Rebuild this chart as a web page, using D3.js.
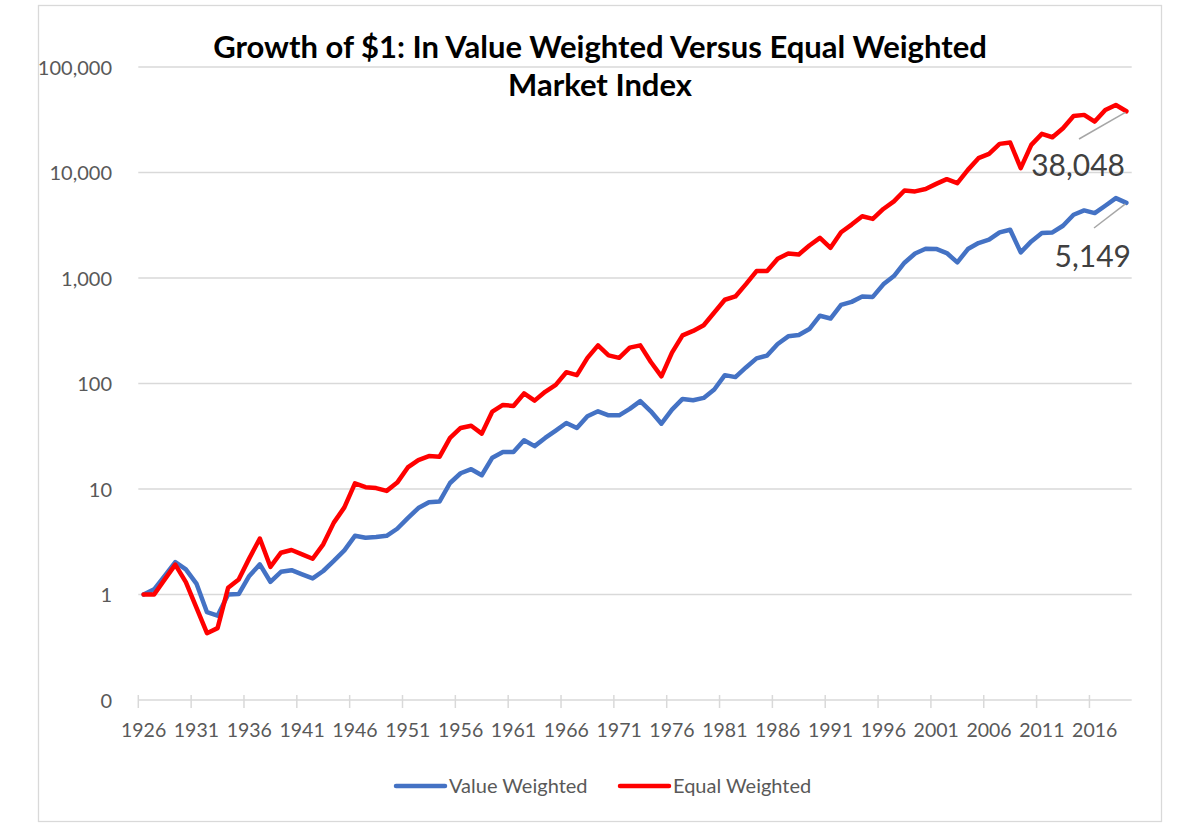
<!DOCTYPE html>
<html>
<head>
<meta charset="utf-8">
<script src="https://cdn.jsdelivr.net/npm/d3@7"></script>
<style>
    body { margin: 0; background: #fff; }
    svg text { font-family: Lato, 'Liberation Sans', sans-serif; }
</style>
</head>
<body>
<div id="chart"></div>
<script>
// Year categories, one point per year
const years = d3.range(1926, 2020);

const valueWeighted = [
    1.0, 1.12, 1.5, 2.03, 1.73, 1.27, 0.68, 0.63, 1.0, 1.01,
    1.5, 1.93, 1.32, 1.64, 1.7, 1.55, 1.42, 1.67, 2.08, 2.62,
    3.6, 3.45, 3.5, 3.6, 4.2, 5.3, 6.6, 7.5, 7.6, 11.4,
    14.1, 15.4, 13.5, 19.8, 22.4, 22.4, 29, 25.5, 30.5, 35.8,
    42.2, 37.8, 48.9, 54.5, 49.9, 49.9, 57.4, 68, 54.5, 41.6,
    56.5, 71.4, 69.4, 73, 87.7, 120, 115, 142, 173, 184,
    237, 280, 288, 328, 439, 413, 556, 594, 667, 662,
    871, 1044, 1396, 1709, 1892, 1885, 1724, 1407, 1880, 2144,
    2306, 2706, 2867, 1750, 2222, 2668, 2706, 3127, 3979, 4370,
    4121, 4842, 5720, 5149
];

const equalWeighted = [
    1.0, 1.0, 1.39, 1.92, 1.31, 0.75, 0.43, 0.48, 1.16, 1.39,
    2.2, 3.39, 1.83, 2.49, 2.64, 2.4, 2.18, 2.99, 4.8, 6.7,
    11.3, 10.4, 10.2, 9.6, 11.5, 16.0, 18.8, 20.5, 20.2, 30.5,
    37.9, 39.8, 33.5, 54.2, 62.7, 61.3, 80.5, 68.8, 83.5, 97,
    128, 120, 175, 230, 185, 175, 219, 230, 160, 117,
    196, 286, 315, 357, 471, 622, 669, 875, 1164, 1164,
    1521, 1710, 1673, 2032, 2401, 1932, 2717, 3208, 3846, 3630,
    4510, 5325, 6760, 6620, 6965, 7800, 8650, 7930, 10590, 13670,
    15030, 18680, 19240, 10990, 18280, 23230, 21590, 26290, 34380, 35170,
    30390, 39190, 43680, 38048
];

const yTicks = [0.1, 1, 10, 100, 1000, 10000, 100000];
const seriesNames = ['Value Weighted', 'Equal Weighted'];
const seriesColors = ['#4472C4', '#FF0000'];
const titleLines = ['Growth of $1: In Value Weighted Versus Equal Weighted', 'Market Index'];

class GrowthChart {

    constructor() {
        this.width = 1201;
        this.height = 832;
        this.plot = { left: 138.3, right: 1131.7, top: 67, bottom: 700 };
        this.svg = d3.select('#chart').append('svg')
            .attr('width', this.width)
            .attr('height', this.height);
        this.draw();
    }

    draw() {
        let self = this;
        let p = self.plot;
        let fmt = d3.format(',.0f');

        self.svg.append('rect')
            .attr('x', 38.5)
            .attr('y', 5.5)
            .attr('width', 1123)
            .attr('height', 816)
            .attr('fill', '#fff')
            .attr('stroke', '#d9d9d9')
            .attr('stroke-width', 1.3);

        let x = d3.scaleBand()
            .domain(years)
            .range([p.left, p.right])
            .padding(0);
        let cx = d => x(d) + x.bandwidth() / 2;

        let y = d3.scaleLog()
            .domain([0.1, 100000])
            .range([p.bottom, p.top]);

        // gridlines
        self.svg.append('g')
            .selectAll('line')
            .data(yTicks)
            .enter()
            .append('line')
            .attr('x1', p.left)
            .attr('x2', p.right)
            .attr('y1', d => y(d))
            .attr('y2', d => y(d))
            .attr('stroke', '#d9d9d9')
            .attr('stroke-width', 1.5);

        // y axis labels
        let yAxis = d3.axisLeft(y)
            .tickValues(yTicks)
            .tickFormat(fmt)
            .tickSize(0)
            .tickPadding(0);
        let gy = self.svg.append('g')
            .attr('transform', `translate(112, 0)`)
            .call(yAxis);
        gy.select('.domain').remove();
        gy.selectAll('text')
            .attr('dy', '0.36em')
            .style('font-size', '20px')
            .style('fill', '#595959');

        // x axis: tick marks on category boundaries, labels on centers
        let labelYears = years.filter((d, i) => i % 5 === 0);
        self.svg.append('g')
            .selectAll('line')
            .data(labelYears)
            .enter()
            .append('line')
            .attr('x1', d => x(d))
            .attr('x2', d => x(d))
            .attr('y1', p.bottom - 5)
            .attr('y2', p.bottom + 8)
            .attr('stroke', '#d9d9d9')
            .attr('stroke-width', 1.5);

        let xAxis = d3.axisBottom(x)
            .tickValues(labelYears)
            .tickSize(0)
            .tickPadding(0);
        let gx = self.svg.append('g')
            .attr('transform', `translate(0, ${p.bottom + 37})`)
            .call(xAxis);
        gx.select('.domain').remove();
        gx.selectAll('text')
            .attr('dy', 0)
            .style('font-size', '19.5px')
            .style('fill', '#595959');

        // series lines
        let line = d3.line()
            .x((d, i) => cx(years[i]))
            .y(d => y(d));
        [valueWeighted, equalWeighted].forEach((s, k) => {
            self.svg.append('path')
                .datum(s)
                .attr('d', line)
                .attr('fill', 'none')
                .attr('stroke', seriesColors[k])
                .attr('stroke-width', 4.5)
                .attr('stroke-linejoin', 'round')
                .attr('stroke-linecap', 'round');
        });

        // end labels with leader lines
        let last = years.length - 1;
        let endLabels = [
            { v: equalWeighted[last], lx: 1079, ly: 139, tx: 1125, ty: 176 },
            { v: valueWeighted[last], lx: 1094, ly: 228, tx: 1131, ty: 267 }
        ];
        endLabels.forEach(d => {
            self.svg.append('line')
                .attr('x1', d.lx)
                .attr('y1', d.ly)
                .attr('x2', cx(years[last]) - 1)
                .attr('y2', y(d.v) + 1)
                .attr('stroke', '#a6a6a6')
                .attr('stroke-width', 1.5);
            self.svg.append('text')
                .text(fmt(d.v))
                .attr('x', d.tx)
                .attr('y', d.ty)
                .attr('text-anchor', 'end')
                .style('font-size', '30px')
                .style('fill', '#404040');
        });

        // title
        self.svg.append('g')
            .selectAll('text')
            .data(titleLines)
            .enter()
            .append('text')
            .text(d => d)
            .attr('x', 600)
            .attr('y', (d, i) => 58 + i * 38)
            .attr('text-anchor', 'middle')
            .style('font-size', '31px')
            .style('font-weight', 'bold')
            .style('fill', '#000');

        // legend
        let legendX = [396, 620];
        seriesNames.forEach((name, k) => {
            self.svg.append('line')
                .attr('x1', legendX[k])
                .attr('x2', legendX[k] + 49)
                .attr('y1', 786)
                .attr('y2', 786)
                .attr('stroke', seriesColors[k])
                .attr('stroke-width', 4.5)
                .attr('stroke-linecap', 'round');
            self.svg.append('text')
                .text(name)
                .attr('x', legendX[k] + 53)
                .attr('y', 793)
                .style('font-size', '20px')
                .style('fill', '#595959');
        });
    }
}

new GrowthChart();
</script>
</body>
</html>
